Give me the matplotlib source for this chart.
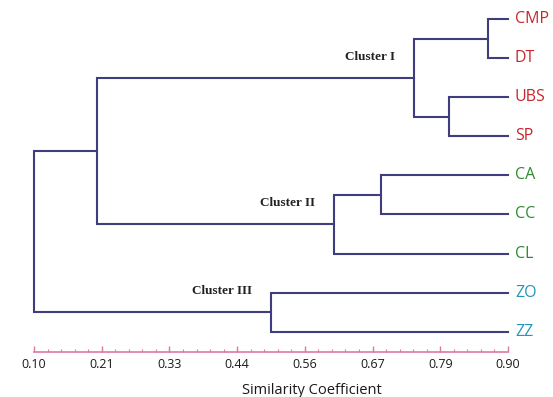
import matplotlib.pyplot as plt
from matplotlib.ticker import FixedLocator

# leaves, top to bottom
leaves = ['CMP', 'DT', 'UBS', 'SP', 'CA', 'CC', 'CL', 'ZO', 'ZZ']
leaf_colors = ['#c8262b', '#c8262b', '#c8262b', '#c8262b',
               '#2f8a2f', '#2f8a2f', '#2f8a2f', '#2596b8', '#2596b8']

# merges in order; node k gets the name 'n{k+1}'
merge_a = ['CMP', 'UBS', 'n1', 'CA', 'n4', 'n3', 'ZO', 'n6']
merge_b = ['DT', 'SP', 'n2', 'CC', 'CL', 'n5', 'ZZ', 'n7']
merge_sim = [0.866, 0.800, 0.741, 0.686, 0.606, 0.206, 0.500, 0.100]

cluster_nodes = {'n3': 'Cluster I', 'n5': 'Cluster II', 'n7': 'Cluster III'}

tick_values = [0.10, 0.2143, 0.3286, 0.4429, 0.5571, 0.6714, 0.7857, 0.90]
tick_labels = ['0.10', '0.21', '0.33', '0.44', '0.56', '0.67', '0.79', '0.90']

line_color = '#3f3d7c'
axis_color = '#dc7aa4'

fig = plt.figure(figsize=(5.53, 3.97), dpi=100)
ax = fig.add_axes([34 / 553, 1 - 352 / 397, 474 / 553, 352 / 397])
ax.set_xlim(0.10, 0.90)
ax.set_ylim(8.517, -0.486)

x_end = ax.get_xlim()[1]
pos = {name: (x_end, i) for i, name in enumerate(leaves)}

for k, (a, b, s) in enumerate(zip(merge_a, merge_b, merge_sim)):
    xa, ya = pos[a]
    xb, yb = pos[b]
    ax.plot([xa, s, s, xb], [ya, ya, yb, yb], color=line_color, lw=1.5,
            solid_joinstyle='miter', clip_on=False)
    pos['n%d' % (k + 1)] = (s, (ya + yb) / 2)

for name, col in zip(leaves, leaf_colors):
    x, y = pos[name]
    ax.annotate(name, (x, y), xytext=(7, 0), textcoords='offset pixels',
                ha='left', va='center', color=col, fontsize=11.5,
                family='Open Sans')

for node, lab in cluster_nodes.items():
    x, y = pos[node]
    ax.annotate(lab, (x, y), xytext=(-19, 21), textcoords='offset pixels',
                ha='right', va='center', fontsize=9.5, fontweight='bold',
                family='Liberation Serif', color='#222222')

for sp in ['top', 'left', 'right']:
    ax.spines[sp].set_visible(False)
ax.spines['bottom'].set_color(axis_color)
ax.spines['bottom'].set_linewidth(1.2)
ax.set_yticks([])
ax.set_xticks(tick_values)
ax.set_xticklabels(tick_labels, fontsize=9, family='Open Sans',
                   color='#1a1a1a')
step = (tick_values[-1] - tick_values[0]) / 35
ax.xaxis.set_minor_locator(FixedLocator([tick_values[0] + i * step for i in range(36)]))
ax.tick_params(axis='x', which='major', direction='in', length=4,
               color=axis_color, width=1, pad=4)
ax.tick_params(axis='x', which='minor', direction='in', length=2,
               color=axis_color, width=0.8)

fig.text(312 / 553, 1 - 390 / 397, 'Similarity Coefficient', ha='center',
         va='center', fontsize=10.5, family='Open Sans', color='#1a1a1a')

fig.savefig('out.png', dpi=100)
